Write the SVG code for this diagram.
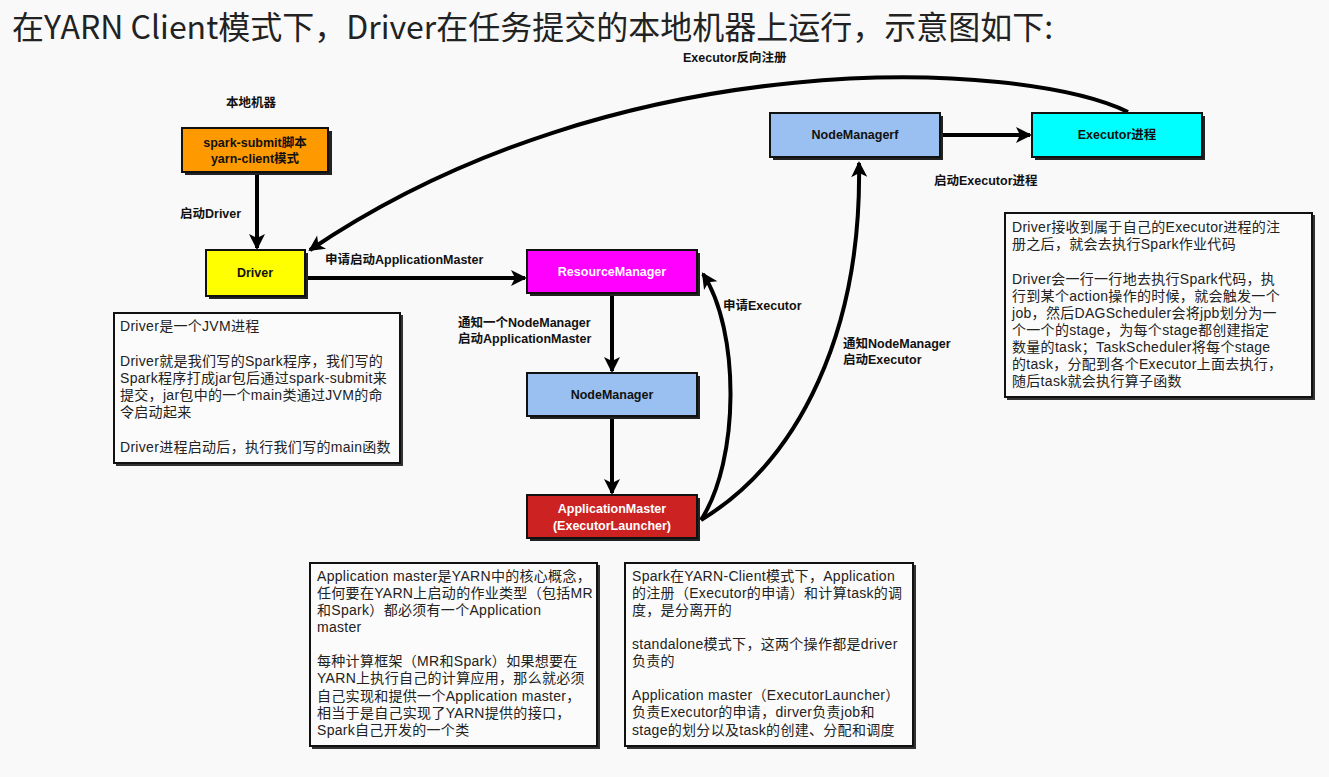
<svg xmlns="http://www.w3.org/2000/svg" width="1329" height="777" viewBox="0 0 1329 777">
<style>
.bg{fill:#f9f9f9}
.title{font-family:"Noto Sans CJK SC","Noto Sans",sans-serif;font-size:32px;fill:#222}
.lbl{font-family:"Liberation Sans","Noto Sans CJK SC",sans-serif;font-size:12.5px;font-weight:bold;fill:#111}
.nt{font-family:"Liberation Sans","Noto Sans CJK SC",sans-serif;font-size:12.5px;font-weight:bold;text-anchor:middle}
.box{stroke:#111;stroke-width:2}
.sh{fill:#222}
.note{fill:#fbfbfb;stroke:#111;stroke-width:2}
.nsh{fill:#333}
.tx{font-family:"Liberation Sans","Noto Sans CJK SC",sans-serif;font-size:14px;letter-spacing:0.3px;fill:#222}
.con{fill:none;stroke:#000;stroke-width:4}
</style>
<defs>
<marker id="ah" markerUnits="userSpaceOnUse" markerWidth="20" markerHeight="20" viewBox="0 0 20 20" refX="16" refY="10" orient="auto">
<path d="M2,2 L18,10 L2,18 L6,10 Z" fill="#000"/>
</marker>
</defs>
<rect class="bg" x="0" y="0" width="1329" height="777"/>
<text class="title" x="12" y="39">在YARN Client模式下，Driver在任务提交的本地机器上运行，示意图如下:</text>

<g id="connectors">
<line class="con" x1="257" y1="173" x2="257" y2="248" marker-end="url(#ah)"/>
<line class="con" x1="306" y1="278" x2="525" y2="278" marker-end="url(#ah)"/>
<line class="con" x1="612" y1="294" x2="612" y2="371" marker-end="url(#ah)"/>
<line class="con" x1="612" y1="417" x2="612" y2="493" marker-end="url(#ah)"/>
<path class="con" d="M701,520 C740,460 740,330 703,274" marker-end="url(#ah)"/>
<path class="con" d="M701,520 C800,460 862,330 859,163" marker-end="url(#ah)"/>
<line class="con" x1="941" y1="135" x2="1030" y2="135" marker-end="url(#ah)"/>
<path class="con" d="M1128,112 C1020,60 620,40 310,250" marker-end="url(#ah)"/>
<text class="lbl" x="683" y="62">Executor反向注册</text>
<text class="lbl" x="180" y="218">启动Driver</text>
<text class="lbl" x="325" y="264">申请启动ApplicationMaster</text>
<text class="lbl" x="458" y="327">通知一个NodeManager</text>
<text class="lbl" x="458" y="343">启动ApplicationMaster</text>
<text class="lbl" x="723" y="310">申请Executor</text>
<text class="lbl" x="843" y="348">通知NodeManager</text>
<text class="lbl" x="843" y="364">启动Executor</text>
<text class="lbl" x="934" y="185">启动Executor进程</text>
</g>

<g id="local-label"><text class="lbl" x="226" y="107">本地机器</text></g>

<g id="spark-submit">
<rect class="sh" x="185" y="131" width="147" height="44"/>
<rect class="box" x="182" y="128" width="146" height="44" fill="#ff9900"/>
<text class="nt" x="255" y="147" fill="#111">spark-submit脚本</text>
<text class="nt" x="255" y="163" fill="#111">yarn-client模式</text>
</g>

<g id="driver">
<rect class="sh" x="209" y="253" width="99" height="46"/>
<rect class="box" x="206" y="250" width="99" height="46" fill="#ffff00"/>
<text class="nt" x="255" y="277" fill="#111">Driver</text>
</g>

<g id="resourcemanager">
<rect class="sh" x="530" y="253" width="170" height="43"/>
<rect class="box" x="527" y="250" width="170" height="43" fill="#ff00ff"/>
<text class="nt" x="612" y="276" fill="#fff">ResourceManager</text>
</g>

<g id="nodemanager">
<rect class="sh" x="530" y="376" width="170" height="43"/>
<rect class="box" x="527" y="373" width="170" height="43" fill="#99c0f0"/>
<text class="nt" x="612" y="399" fill="#111">NodeManager</text>
</g>

<g id="applicationmaster">
<rect class="sh" x="530" y="498" width="170" height="43"/>
<rect class="box" x="527" y="495" width="170" height="43" fill="#cc2222"/>
<text class="nt" x="612" y="513" fill="#fff">ApplicationMaster</text>
<text class="nt" x="612" y="530" fill="#fff">(ExecutorLauncher)</text>
</g>

<g id="nodemanagerf">
<rect class="sh" x="773" y="116" width="170" height="44"/>
<rect class="box" x="770" y="113" width="170" height="44" fill="#99c0f0"/>
<text class="nt" x="855" y="139" fill="#111">NodeManagerf</text>
</g>

<g id="executor">
<rect class="sh" x="1035" y="116" width="170" height="44"/>
<rect class="box" x="1032" y="113" width="170" height="44" fill="#00ffff"/>
<text class="nt" x="1117" y="139" fill="#111">Executor进程</text>
</g>

<g id="note-driver">
<rect class="nsh" x="116" y="315" width="287" height="151"/>
<rect class="note" x="114" y="313" width="286" height="150"/>
<text class="tx" x="120" y="331">Driver是一个JVM进程</text>
<text class="tx" x="120" y="366">Driver就是我们写的Spark程序，我们写的</text>
<text class="tx" x="120" y="383">Spark程序打成jar包后通过spark-submit来</text>
<text class="tx" x="120" y="400">提交，jar包中的一个main类通过JVM的命</text>
<text class="tx" x="120" y="417">令启动起来</text>
<text class="tx" x="120" y="452">Driver进程启动后，执行我们写的main函数</text>
</g>

<g id="note-executor">
<rect class="nsh" x="1007" y="215" width="308" height="185"/>
<rect class="note" x="1005" y="213" width="307" height="184"/>
<text class="tx" x="1012" y="232">Driver接收到属于自己的Executor进程的注</text>
<text class="tx" x="1012" y="249">册之后，就会去执行Spark作业代码</text>
<text class="tx" x="1012" y="284">Driver会一行一行地去执行Spark代码，执</text>
<text class="tx" x="1012" y="301">行到某个action操作的时候，就会触发一个</text>
<text class="tx" x="1012" y="318">job，然后DAGScheduler会将jpb划分为一</text>
<text class="tx" x="1012" y="335">个一个的stage，为每个stage都创建指定</text>
<text class="tx" x="1012" y="352">数量的task；TaskScheduler将每个stage</text>
<text class="tx" x="1012" y="369">的task，分配到各个Executor上面去执行，</text>
<text class="tx" x="1012" y="386">随后task就会执行算子函数</text>
</g>

<g id="note-am">
<rect class="nsh" x="312" y="565" width="288" height="184"/>
<rect class="note" x="310" y="563" width="287" height="183"/>
<text class="tx" x="317" y="581">Application master是YARN中的核心概念，</text>
<text class="tx" x="317" y="598">任何要在YARN上启动的作业类型（包括MR</text>
<text class="tx" x="317" y="615">和Spark）都必须有一个Application</text>
<text class="tx" x="317" y="632">master</text>
<text class="tx" x="317" y="666">每种计算框架（MR和Spark）如果想要在</text>
<text class="tx" x="317" y="683">YARN上执行自己的计算应用，那么就必须</text>
<text class="tx" x="317" y="701">自己实现和提供一个Application master，</text>
<text class="tx" x="317" y="718">相当于是自己实现了YARN提供的接口，</text>
<text class="tx" x="317" y="735">Spark自己开发的一个类</text>
</g>

<g id="note-spark">
<rect class="nsh" x="627" y="565" width="289" height="184"/>
<rect class="note" x="625" y="563" width="288" height="183"/>
<text class="tx" x="632" y="581">Spark在YARN-Client模式下，Application</text>
<text class="tx" x="632" y="598">的注册（Executor的申请）和计算task的调</text>
<text class="tx" x="632" y="615">度，是分离开的</text>
<text class="tx" x="632" y="649">standalone模式下，这两个操作都是driver</text>
<text class="tx" x="632" y="666">负责的</text>
<text class="tx" x="632" y="700">Application master（ExecutorLauncher）</text>
<text class="tx" x="632" y="717">负责Executor的申请，dirver负责job和</text>
<text class="tx" x="632" y="735">stage的划分以及task的创建、分配和调度</text>
</g>
</svg>
